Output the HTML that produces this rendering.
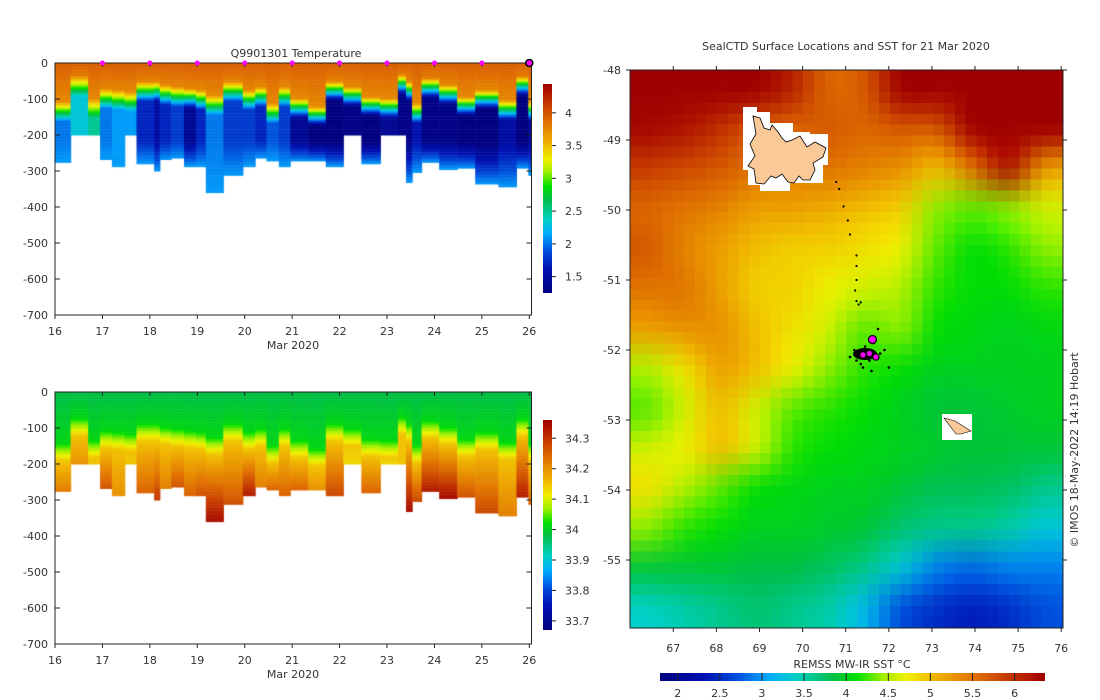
<!DOCTYPE html>
<html><head><meta charset="utf-8">
<style>
body{margin:0;background:#fff;width:1100px;height:700px;overflow:hidden;position:relative;font-family:"DejaVu Sans","Liberation Sans",sans-serif;}
canvas{position:absolute;}
svg{position:absolute;left:0;top:0;}
text{font-family:"DejaVu Sans","Liberation Sans",sans-serif;font-size:11px;fill:#333;}
</style></head><body>
<canvas id="tcv" width="477" height="252" style="left:55px;top:63px;width:477px;height:252px"></canvas>
<canvas id="scv" width="477" height="252" style="left:55px;top:392px;width:477px;height:252px"></canvas>
<canvas id="msm" width="12" height="14" style="display:none"></canvas>
<canvas id="mcv" width="40" height="51" style="left:630px;top:70px;width:433px;height:558px;image-rendering:pixelated"></canvas>
<canvas id="cb1" width="1" height="209" style="left:543px;top:84px;width:9px;height:209px;image-rendering:pixelated"></canvas>
<canvas id="cb2" width="1" height="210" style="left:543px;top:420px;width:9px;height:210px;image-rendering:pixelated"></canvas>
<canvas id="cb3" width="385" height="1" style="left:660px;top:673px;width:385px;height:8px;image-rendering:pixelated"></canvas>
<svg id="ov" width="1100" height="700"></svg>
<script>
// ---- profile data ----
const profStart=[16.00,16.33,16.70,16.95,17.20,17.47,17.72,18.09,18.21,18.45,18.72,18.97,19.18,19.55,19.96,20.22,20.46,20.72,20.96,21.34,21.71,22.08,22.46,22.86,23.23,23.40,23.53,23.73,24.10,24.48,24.86,25.35,25.73,25.98];
const profEnd=26.05;
const profMaxDepth=[274,200,200,268,285,200,277,299,268,263,285,285,360,311,285,263,270,285,271,271,285,200,277,200,200,330,302,274,293,291,335,344,291,311];
const profThermo=[130,60,121,94,98,103,75,75,84,89,94,98,112,75,98,89,135,89,121,144,75,89,117,121,56,75,135,66,84,117,98,126,61,130];
const profTmin=[2.0,2.3,2.5,2.0,2.1,2.1,1.7,1.5,1.7,1.8,1.4,1.7,2.0,1.8,1.8,1.7,1.9,1.8,1.4,1.2,1.2,1.3,1.2,1.4,1.3,1.3,1.6,1.3,1.3,1.2,1.2,1.5,1.2,1.4];
const profSalBottom=[34.22,34.2,34.15,34.27,34.2,34.15,34.25,34.3,34.22,34.27,34.25,34.27,34.35,34.27,34.33,34.22,34.25,34.25,34.25,34.2,34.28,34.13,34.25,34.13,34.15,34.35,34.28,34.33,34.35,34.27,34.28,34.22,34.33,34.25];
const markerDays=[17,18,19,20,21,22,23,24,25,26];
// ---- SST grid (rows N->S, cols W->E) ----
const sstGrid=[
[6.5,6.5,6.5,6.4,6.1,5.6,5.7,6.4,6.5,6.5,6.5,6.5],
[6.3,6.2,6.0,5.7,5.6,5.7,5.6,5.7,5.7,6.4,6.5,6.4],
[5.9,5.8,5.7,5.5,5.4,5.5,5.4,5.3,5.0,5.5,6.2,5.2],
[5.6,5.5,5.4,5.2,5.2,5.1,5.0,4.9,4.4,4.3,4.4,4.6],
[5.7,5.4,5.2,5.0,4.9,4.9,4.8,4.7,4.3,4.1,4.2,4.4],
[5.5,5.5,5.2,4.9,4.9,4.7,4.6,4.5,4.2,4.1,4.1,4.2],
[5.2,5.3,5.3,5.0,4.8,4.6,4.3,4.4,4.1,4.05,4.0,4.05],
[4.5,4.8,5.2,5.0,4.7,4.4,4.2,4.1,4.0,4.0,4.0,4.0],
[4.3,4.6,5.0,4.6,4.3,4.2,4.1,4.0,3.9,3.9,3.95,4.0],
[4.6,4.7,5.0,4.6,4.2,4.1,4.05,4.0,3.95,3.9,3.9,3.9],
[4.8,4.5,4.3,4.1,4.05,4.0,4.0,3.9,3.8,3.8,3.75,3.6],
[4.4,4.2,4.1,4.0,4.0,3.95,3.9,3.7,3.6,3.6,3.5,3.3],
[3.9,3.9,3.9,3.85,3.85,3.75,3.6,3.3,2.9,2.8,2.9,2.9],
[3.4,3.5,3.6,3.7,3.6,3.5,3.2,2.7,2.5,2.4,2.5,2.7]];
const trackLon=[70.78,70.85,70.95,71.05,71.1,71.25,71.25,71.25,71.22,71.25,71.3,71.35];
const trackLat=[-49.6,-49.7,-49.95,-50.15,-50.35,-50.65,-50.8,-51.0,-51.15,-51.3,-51.35,-51.32];
const clusterLon=[71.5,71.4,71.6,71.3,71.7,71.45,71.55,71.2,71.8,71.35,71.65,71.5,71.4,71.25,71.9,71.75,71.6,71.1,71.55,72.0];
const clusterLat=[-52.05,-52.1,-52.0,-52.05,-52.1,-51.95,-52.15,-52.0,-52.05,-52.2,-51.9,-52.1,-52.25,-52.15,-52.0,-51.7,-52.3,-52.1,-51.85,-52.25];
const posLon=[71.62,71.4,71.55,71.7];
const posLat=[-51.85,-52.07,-52.05,-52.1];
const tempTicks=[4,3.5,3,2.5,2,1.5];
const salTicks=[34.3,34.2,34.1,34.0,33.9,33.8,33.7];
const sstTicks=[2,2.5,3,3.5,4,4.5,5,5.5,6];
const depthTicks=[0,100,200,300,400,500,600,700];
const dayTicks=[16,17,18,19,20,21,22,23,24,25,26];
const lonTicks=[67,68,69,70,71,72,73,74,75,76];
const latTicks=[-48,-49,-50,-51,-52,-53,-54,-55];

// colormap
const stops=[[0,[0,0,128]],[0.12,[0,20,180]],[0.2,[0,80,220]],[0.28,[0,170,255]],[0.35,[0,208,200]],[0.45,[0,190,70]],[0.51,[0,224,0]],[0.58,[160,240,0]],[0.64,[240,240,0]],[0.72,[240,176,0]],[0.82,[224,112,0]],[0.92,[192,48,0]],[1,[160,0,0]]];
function cmap(t){t=Math.max(0,Math.min(1,t));for(let i=1;i<stops.length;i++){if(t<=stops[i][0]){const a=stops[i-1],b=stops[i];const f=(t-a[0])/(b[0]-a[0]);return 'rgb('+a[1].map((v,k)=>Math.round(v+(b[1][k]-v)*f)).join(',')+')';}}return 'rgb(160,0,0)';}
const T0=1.25,T1=4.44,S0=33.67,S1=34.36,M0=1.79,M1=6.36;
const xDay=d=>(d-16)*47.43;
const yDep=z=>z*0.36;
function tempAt(i,d){const th=profThermo[i],tm=profTmin[i];
 if(d<th-25) return 3.95-0.25*d/Math.max(th,1);
 if(d<th+30){const f=(d-(th-25))/55;return 3.75+(tm-3.75)*f;}
 if(d<215) return tm;
 const f=(d-215)/Math.max(profMaxDepth[i]-215,20);return tm+(2.1-tm)*Math.min(1,f);}
function salAt(i,d){const th=profThermo[i]+10,sb=profSalBottom[i];
 if(d<th) return 33.98+0.03*d/th;
 if(d<th+50) return 34.01+(34.15-34.01)*(d-th)/50;
 return 34.15+(sb-34.15)*Math.min(1,(d-th-50)/Math.max(profMaxDepth[i]-th-50,20));}
function drawSection(id,fn,v0,v1){const c=document.getElementById(id).getContext('2d');
 for(let i=0;i<profStart.length;i++){const x0=xDay(profStart[i]),x1=xDay(i+1<profStart.length?profStart[i+1]:profEnd);
  for(let d=0;d<profMaxDepth[i];d+=4){c.fillStyle=cmap((fn(i,d)-v0)/(v1-v0));c.fillRect(x0,yDep(d),x1-x0+0.5,yDep(4)+0.5);}}}
drawSection('tcv',tempAt,T0,T1);
drawSection('scv',salAt,S0,S1);
(function(){const s=document.getElementById('msm').getContext('2d');
 for(let r=0;r<sstGrid.length;r++)for(let k=0;k<sstGrid[r].length;k++){s.fillStyle=cmap((sstGrid[r][k]-M0)/(M1-M0));s.fillRect(k,r,1,1);}
 const c=document.getElementById('mcv').getContext('2d');c.imageSmoothingEnabled=true;c.imageSmoothingQuality='high';
 c.drawImage(document.getElementById('msm'),0,0,40,51);})();
(function(){let c=document.getElementById('cb1').getContext('2d');for(let y=0;y<209;y++){c.fillStyle=cmap(1-y/208);c.fillRect(0,y,1,1);}
 c=document.getElementById('cb2').getContext('2d');for(let y=0;y<210;y++){c.fillStyle=cmap(1-y/209);c.fillRect(0,y,1,1);}
 c=document.getElementById('cb3').getContext('2d');for(let x=0;x<385;x++){c.fillStyle=cmap(x/384);c.fillRect(x,0,1,1);}})();

const NS='http://www.w3.org/2000/svg',svg=document.getElementById('ov');
function el(tag,at,txt){const e=document.createElementNS(NS,tag);for(const k in at)e.setAttribute(k,at[k]);if(txt!==undefined)e.textContent=txt;svg.appendChild(e);return e;}
function axesProfile(top,name,ticks,v0,v1,cbTop,cbH,fmt){
 let e=el('rect',{x:55,y:top,width:476.5,height:252,fill:'none',stroke:'#222','stroke-width':1});
 
 
 depthTicks.forEach(d=>{const y=top+yDep(d);
  el('line',{x1:55,x2:60,y1:y,y2:y,stroke:'#222'});el('line',{x1:531.5,x2:526.5,y1:y,y2:y,stroke:'#222'});
  const t=el('text',{x:48,y:y+4,'text-anchor':'end'},d===0?'0':'-'+d);
  
  });
 dayTicks.forEach(d=>{const x=55+xDay(d);
  el('line',{x1:x,x2:x,y1:top+252,y2:top+256,stroke:'#222'});el('line',{x1:x,x2:x,y1:top,y2:top+4,stroke:'#222'});
  const t=el('text',{x:x,y:top+272,'text-anchor':'middle'},String(d));
  
  });
 const m=el('text',{x:293,y:top+286,'text-anchor':'middle'},'Mar 2020');
 
 
 ticks.forEach(v=>{const y=cbTop+cbH*(v1-v)/(v1-v0);
  el('line',{x1:552,x2:556,y1:y,y2:y,stroke:'#222'});
  const t=el('text',{x:565,y:y+4},fmt(v));
  
  });
}
axesProfile(63,'temperature-axes',tempTicks,T0,T1,84,209,v=>String(v));
axesProfile(392,'salinity-axes',salTicks,S0,S1,420,210,v=>String(Math.round(v*10)/10));
let tt=el('text',{x:296,y:57,'text-anchor':'middle','font-size':'12'},'Q9901301  Temperature');


markerDays.forEach((d,i)=>{const x=55+xDay(d);
 const c=el('circle',{cx:x,cy:63,r:i===markerDays.length-1?3.5:2.5,fill:'#ff00ff',stroke:i===markerDays.length-1?'#000':'none','stroke-width':1.5});
 
 });
const lonX=l=>630.2+(l-66)*43.1, latY=a=>70+(-48-a)*70;
el('path',{d:'M743,107 L757,107 L757,112 L770,112 L770,123 L793,123 L793,132 L810,132 L810,134 L828,134 L828,165 L823,165 L823,183 L790,183 L790,191 L760,191 L760,185 L748,185 L748,170 L743,170 Z',fill:'#fff'});
let isl=el('path',{d:'M753,116 L760,118 L764,128 L770,130 L772,125 L778,132 L782,138 L786,142 L792,140 L800,136 L807,147 L815,142 L826,148 L823,157 L813,163 L815,170 L810,180 L803,180 L799,176 L794,183 L788,182 L782,174 L776,178 L771,176 L764,184 L756,183 L754,169 L748,166 L755,156 L750,144 L756,134 Z',fill:'#fbc898',stroke:'#000','stroke-width':0.8});


el('rect',{x:942,y:414,width:30,height:26,fill:'#fff'});
let hi=el('path',{d:'M944,418 L955,421 L971,431 L961,434 L956,434 Z',fill:'#fbc898',stroke:'#000','stroke-width':0.6});


trackLon.forEach((l,i)=>{const c=el('circle',{cx:lonX(l),cy:latY(trackLat[i]),r:1.1,fill:'#000'});
 
 });
clusterLon.forEach((l,i)=>{const c=el('circle',{cx:lonX(l),cy:latY(clusterLat[i]),r:1.3,fill:'#000'});
 
 });
el('ellipse',{cx:865,cy:354,rx:12,ry:6,fill:'#000'});
posLon.forEach((l,i)=>{const c=el('circle',{cx:lonX(l),cy:latY(posLat[i]),r:i===0?4:3.2,fill:'#ff00ff',stroke:'#000','stroke-width':1.2});
 
 });
let mf=el('rect',{x:630,y:70,width:433,height:558,fill:'none',stroke:'#222'});


lonTicks.forEach(l=>{const x=lonX(l);el('line',{x1:x,x2:x,y1:70,y2:66,stroke:'#222'});el('line',{x1:x,x2:x,y1:628,y2:632,stroke:'#222'});
 const t=el('text',{x:x,y:652,'text-anchor':'middle'},String(l));
 
 });
latTicks.forEach(a=>{const y=latY(a);el('line',{x1:630,x2:626,y1:y,y2:y,stroke:'#222'});el('line',{x1:1063,x2:1067,y1:y,y2:y,stroke:'#222'});
 const t=el('text',{x:621,y:y+4,'text-anchor':'end'},String(a));
 
 });
let mt=el('text',{x:846,y:50,'text-anchor':'middle'},'SealCTD Surface Locations and SST for 21 Mar 2020');


let ct=el('text',{x:852,y:668,'text-anchor':'middle'},'REMSS MW-IR SST °C');


sstTicks.forEach(v=>{const x=660+385*(v-M0)/(M1-M0);
 el('line',{x1:x,x2:x,y1:673,y2:677,stroke:'#222'});el('line',{x1:x,x2:x,y1:681,y2:677,stroke:'#222'});
 const t=el('text',{x:x,y:697,'text-anchor':'middle'},String(v));
 
 });
let cr=el('text',{x:1078,y:450,'text-anchor':'middle','font-size':'9',transform:'rotate(-90 1078 450)'},'© IMOS 18-May-2022 14:19 Hobart');


</script>
</body></html>
